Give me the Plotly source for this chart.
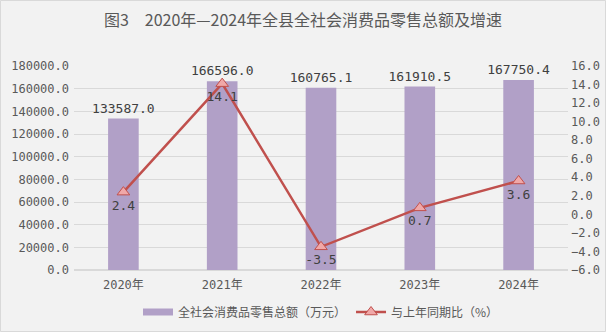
import plotly.graph_objects as go

# Annual data
years = ["2020年", "2021年", "2022年", "2023年", "2024年"]
retail_total = [133587.0, 166596.0, 160765.1, 161910.5, 167750.4]  # 万元
growth_rate = [2.4, 14.1, -3.5, 0.7, 3.6]  # %

bar_name = "全社会消费品零售总额（万元）"
line_name = "与上年同期比（%）"
title_text = "图3　2020年—2024年全县全社会消费品零售总额及增速"

num_font = "DejaVu Sans Mono, Liberation Mono, monospace"
cjk_font = "Noto Sans CJK SC, Noto Sans, sans-serif"
text_col = "#595959"
bar_col = "#b1a0c7"

fig = go.Figure()

fig.add_trace(go.Bar(
    x=years,
    y=retail_total,
    name=bar_name,
    showlegend=False,
    marker=dict(color=bar_col, line=dict(width=0)),
    width=0.31,
    text=[f"{v:.1f}" for v in retail_total],
    textposition="outside",
    constraintext="none",
    textfont=dict(family=num_font, size=13, color="#404040"),
    cliponaxis=False,
))

# legend entry for the bars: a wide flat swatch
fig.add_trace(go.Scatter(
    x=[None], y=[None],
    name=bar_name,
    mode="lines",
    line=dict(color=bar_col, width=7),
))

fig.add_trace(go.Scatter(
    x=years,
    y=growth_rate,
    name=line_name,
    yaxis="y2",
    mode="lines+markers+text",
    line=dict(color="#c0504d", width=2.5),
    marker=dict(symbol="triangle-up", size=11, color="#f0a8a8",
                line=dict(color="#c0504d", width=1)),
    text=[f"{v:.1f}" for v in growth_rate],
    textposition="bottom center",
    textfont=dict(family=num_font, size=13, color="#404040"),
    cliponaxis=False,
))

fig.update_layout(
    width=606,
    height=332,
    margin=dict(l=74, r=38, t=66, b=62, autoexpand=False),
    paper_bgcolor="#f2f2f2",
    plot_bgcolor="#f2f2f2",
    title=dict(
        text=title_text,
        x=0.5, xanchor="center",
        y=1 - 20 / 332, yanchor="middle",
        font=dict(family=cjk_font, size=16, color=text_col),
    ),
    xaxis=dict(
        type="category",
        showgrid=False,
        showline=False,
        ticks="",
        automargin=False,
        ticklabelstandoff=6,
        tickfont=dict(family=num_font + ", " + cjk_font, size=12, color=text_col),
    ),
    yaxis=dict(
        range=[0, 180000],
        dtick=20000,
        tickformat=".1f",
        showgrid=True,
        gridcolor="#d9d9d9",
        gridwidth=1,
        zeroline=True,
        zerolinecolor="#d9d9d9",
        ticks="",
        automargin=False,
        ticklabelstandoff=4,
        tickfont=dict(family=num_font, size=12, color=text_col),
    ),
    yaxis2=dict(
        overlaying="y",
        side="right",
        range=[-6, 16],
        dtick=2,
        tickformat=".1f",
        showgrid=False,
        zeroline=False,
        ticks="",
        automargin=False,
        ticklabelstandoff=2,
        tickfont=dict(family=num_font, size=12, color=text_col),
    ),
    legend=dict(
        orientation="h",
        x=0.5, xanchor="center",
        y=-42 / 204, yanchor="middle",
        font=dict(family=cjk_font, size=12, color=text_col),
        bgcolor="rgba(0,0,0,0)",
        itemwidth=30,
        tracegroupgap=0,
    ),
    showlegend=True,
    shapes=[dict(
        type="rect", xref="paper", yref="paper",
        x0=-73.5 / 494, x1=1 + 37.5 / 494, y0=-61.5 / 204, y1=1 + 65.5 / 204,
        line=dict(color="#d9d9d9", width=1),
    )],
)

fig.write_html("out.html")
